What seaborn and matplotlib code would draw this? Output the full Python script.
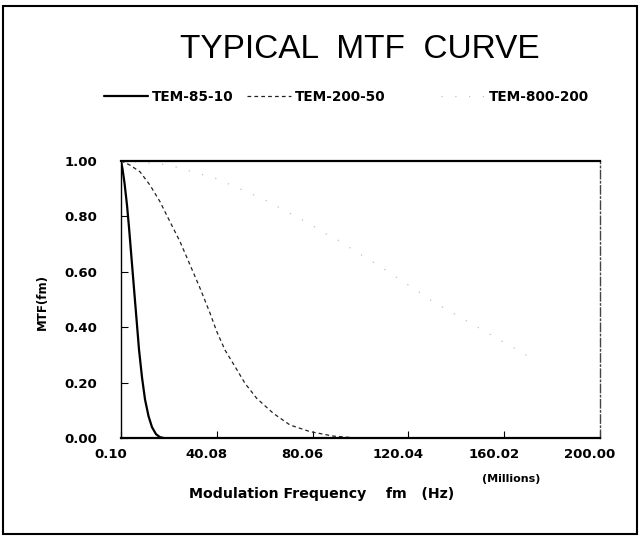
import matplotlib
matplotlib.use("Agg")
import matplotlib.pyplot as plt
import matplotlib.transforms as mtransforms
from matplotlib.patches import Rectangle
import seaborn as sns

# ---- data ----
freq_85 = [0.1, 0.73, 1.56, 2.6, 3.44, 4.48, 5.52, 6.57, 7.61, 8.86, 10.12,
           11.58, 13.04, 14.7, 16.37, 18.46, 30.0, 100.0, 200.0]
mtf_85 = [1.0, 0.97, 0.92, 0.84, 0.76, 0.65, 0.54, 0.43, 0.32, 0.22, 0.14,
          0.08, 0.04, 0.015, 0.004, 0.0, 0.0, 0.0, 0.0]

freq_200 = [0.1, 3.86, 8.03, 12.2, 16.4, 20.55, 24.7, 28.9, 33.07, 37.2,
            40.04, 43.5, 47.7, 51.85, 56.73, 63.65, 70.6, 79.0, 88.7, 97.0,
            110.0, 200.0]
mtf_200 = [1.0, 0.984, 0.96, 0.912, 0.852, 0.78, 0.709, 0.625, 0.541, 0.452,
           0.385, 0.318, 0.258, 0.198, 0.144, 0.09, 0.048, 0.024, 0.008, 0.002,
           0.0, 0.0]

freq_800 = [0.1, 20.0, 40.0, 60.0, 73.7, 79.7, 86.9, 90.1, 96.6, 100.5, 111.0,
            117.9, 121.7, 131.5, 134.8, 171.2]
mtf_800 = [1.0, 0.985, 0.935, 0.86, 0.796, 0.768, 0.73, 0.717, 0.681, 0.66,
           0.604, 0.563, 0.544, 0.484, 0.47, 0.29]

series_labels = ["TEM-85-10", "TEM-200-50", "TEM-800-200"]
x_ticks = [0.10, 40.08, 80.06, 120.04, 160.02, 200.00]
y_ticks = [0.0, 0.2, 0.4, 0.6, 0.8, 1.0]

# ---- style ----
sns.set_style("white")
plt.rcParams["font.family"] = ["DejaVu Sans"]
plt.rcParams["text.color"] = "black"
plt.rcParams["axes.labelcolor"] = "black"

fig = plt.figure(figsize=(6.41, 5.38), dpi=100)
W, H = 641, 538
ax = fig.add_axes([121 / W, 1 - 438.3 / H, (600 - 121) / W, (438.3 - 160.7) / H])

sns.lineplot(x=freq_85, y=mtf_85, ax=ax, color="black", linewidth=1.6,
             label=series_labels[0], legend=False)
sns.lineplot(x=freq_200, y=mtf_200, ax=ax, color="#222222", linewidth=0.9,
             linestyle=(0, (3, 2.5)), label=series_labels[1], legend=False)
sns.lineplot(x=freq_800, y=mtf_800, ax=ax, color="#c0c0c0", linewidth=0.9,
             linestyle=(0, (1, 10)), label=series_labels[2], legend=False)

ax.set_xlim(0.10, 200.0)
ax.set_ylim(0.0, 1.0)
ax.set_xticks(x_ticks)
ax.set_xticklabels([f"{v:.2f}" for v in x_ticks])
ax.set_yticks(y_ticks)
ax.set_yticklabels([f"{v:.2f}" for v in y_ticks])
ax.tick_params(axis="both", direction="in", length=5, width=0.8, color="black",
               labelsize=9.5, labelcolor="black", bottom=True, left=True,
               top=False, right=False)
ax.tick_params(axis="x", pad=7)
ax.tick_params(axis="y", pad=17)
for lab in ax.get_xticklabels() + ax.get_yticklabels():
    lab.set_fontweight("bold")
offset = mtransforms.ScaledTranslation(-10 / 100, 0, fig.dpi_scale_trans)
for lab in ax.get_xticklabels():
    lab.set_transform(lab.get_transform() + offset)

for side in ["left", "bottom", "top"]:
    ax.spines[side].set_color("black")
ax.spines["left"].set_linewidth(1.0)
ax.spines["bottom"].set_linewidth(1.6)
ax.spines["top"].set_linewidth(1.6)
ax.spines["right"].set_color("#444444")
ax.spines["right"].set_linewidth(1.0)
ax.spines["right"].set_linestyle((0, (6, 2, 1, 2)))
ax.set_xlabel("")
ax.set_ylabel("")

# ---- texts ----
fig.text(360 / W, 1 - 49 / H, "TYPICAL  MTF  CURVE", ha="center", va="center",
         fontsize=24, family="Liberation Sans", color="black")
fig.text(322 / W, 1 - 494 / H, "Modulation Frequency    fm   (Hz)", ha="center",
         va="center", fontsize=10.2, fontweight="bold", color="black")
fig.text(511 / W, 1 - 479 / H, "(Millions)", ha="center", va="center",
         fontsize=8, fontweight="bold", color="black")
fig.text(42 / W, 1 - 302 / H, "MTF(fm)", ha="center", va="center",
         fontsize=8.5, fontweight="bold", rotation=90, color="black")

# ---- legend entries placed individually ----
handles = ax.get_lines()[:3]
legend_x = [104, 247, 441]
for h, lab, xp in zip(handles, series_labels, legend_x):
    fig.legend(handles=[h], labels=[lab], loc="center left",
               bbox_to_anchor=(xp / W, 1 - 97 / H), frameon=False,
               handlelength=3.2, handletextpad=0.35, borderpad=0,
               borderaxespad=0, labelcolor="black",
               prop={"size": 9.8, "weight": "bold"})

# ---- outer frame ----
fig.patches.append(Rectangle((3 / W, 4 / H), (637 - 3) / W, (534 - 6) / H,
                             transform=fig.transFigure, fill=False,
                             edgecolor="black", linewidth=1.5))

fig.savefig("out.png", dpi=100)
